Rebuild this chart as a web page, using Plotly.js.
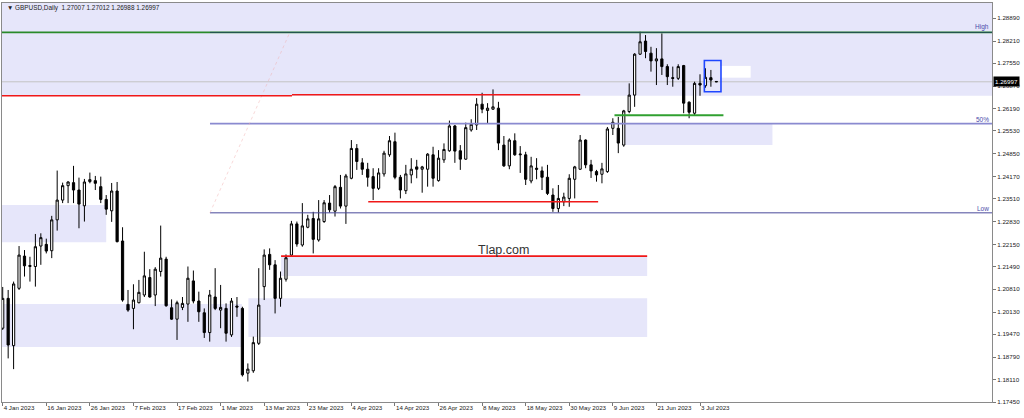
<!DOCTYPE html>
<html>
<head>
<meta charset="utf-8">
<script src="https://cdn.plot.ly/plotly-3.0.1.min.js"></script>
<style>html,body{margin:0;padding:0;background:#fff;}#chart{width:1024px;height:418px;}</style>
</head>
<body>
<div id="chart"></div>
<script>
// ---- OHLC values (GBPUSD daily, 4 Jan 2023 .. 6 Jul 2023) ----
const open = [
1.1965,1.2054,1.1913,1.2084,1.2180,1.2149,1.2149,1.2210,1.2215,1.2196,
1.2288,1.2347,1.2390,1.2399,1.2377,1.2330,1.2402,1.2405,1.2387,1.2349,
1.2315,1.2374,1.2225,1.2036,1.2024,1.2041,1.2064,1.2116,1.2064,1.2134,
1.2171,1.2026,1.1992,1.2027,1.2037,1.2106,1.2046,1.2011,1.1952,1.2058,
1.2019,1.2024,1.1945,1.2031,1.2024,1.1831,1.1838,1.1920,1.2089,1.2185,
1.2154,1.2054,1.2111,1.2183,1.2276,1.2213,1.2266,1.2292,1.2228,1.2283,
1.2338,1.2314,1.2385,1.2329,1.2412,1.2501,1.2458,1.2439,1.2417,1.2382,
1.2425,1.2482,1.2521,1.2415,1.2375,1.2422,1.2446,1.2439,1.2439,1.2482,
1.2405,1.2467,1.2494,1.2568,1.2494,1.2469,1.2556,1.2571,1.2633,1.2614,
1.2618,1.2621,1.2511,1.2449,1.2524,1.2482,1.2482,1.2404,1.2442,1.2434,
1.2415,1.2362,1.2322,1.2342,1.2352,1.2409,1.2439,1.2526,1.2452,1.2432,
1.2424,1.2432,1.2561,1.2561,1.2511,1.2611,1.2660,1.2782,1.2821,1.2785,
1.2762,1.2768,1.2745,1.2712,1.2710,1.2748,1.2639,1.2606,1.2695,1.2688,
1.2712,1.27007];
const high = [
1.2088,1.2079,1.2104,1.2210,1.2198,1.2178,1.2246,1.2248,1.2232,1.2300,
1.2435,1.2399,1.2403,1.2449,1.2414,1.2410,1.2429,1.2419,1.2417,1.2362,
1.2398,1.2401,1.2266,1.2079,1.2096,1.2109,1.2193,1.2141,1.2147,1.2271,
1.2178,1.2051,1.2047,1.2058,1.2149,1.2137,1.2074,1.2024,1.2079,1.2144,
1.2094,1.2039,1.2055,1.2058,1.2029,1.1860,1.1940,1.2144,1.2200,1.2203,
1.2168,1.2134,1.2185,1.2285,1.2283,1.2338,1.2303,1.2312,1.2347,1.2347,
1.2362,1.2392,1.2422,1.2425,1.2526,1.2514,1.2472,1.2458,1.2442,1.2442,
1.2494,1.2538,1.2548,1.2422,1.2452,1.2472,1.2467,1.2449,1.2487,1.2506,
1.2496,1.2516,1.2584,1.2571,1.2511,1.2578,1.2588,1.2651,1.2667,1.2636,
1.2677,1.2640,1.2538,1.2531,1.2546,1.2508,1.2491,1.2476,1.2472,1.2447,
1.2452,1.2382,1.2392,1.2369,1.2424,1.2449,1.2541,1.2528,1.2467,1.2437,
1.2458,1.2565,1.2591,1.2595,1.2616,1.2695,1.2785,1.2849,1.2839,1.2804,
1.2800,1.2844,1.2752,1.2745,1.2752,1.2750,1.2641,1.2700,1.2722,1.2740,
1.2735,1.27012];
const low = [
1.1960,1.1875,1.1843,1.2079,1.2119,1.2104,1.2089,1.2154,1.2188,1.2174,
1.2256,1.2338,1.2338,1.2338,1.2263,1.2283,1.2397,1.2377,1.2338,1.2303,
1.2282,1.2221,1.2044,1.2014,1.1962,1.2039,1.2058,1.2056,1.2031,1.2119,
1.2029,1.1990,1.1930,1.2019,1.1984,1.2039,1.1984,1.1936,1.1925,1.2019,
1.1965,1.1925,1.1939,1.1999,1.1821,1.1806,1.1832,1.1915,1.2049,1.2139,
1.2009,1.2029,1.2104,1.2178,1.2208,1.2208,1.2263,1.2188,1.2223,1.2279,
1.2310,1.2298,1.2322,1.2276,1.2409,1.2437,1.2422,1.2387,1.2347,1.2377,
1.2417,1.2476,1.2409,1.2352,1.2365,1.2397,1.2412,1.2369,1.2387,1.2387,
1.2402,1.2458,1.2491,1.2458,1.2437,1.2467,1.2551,1.2556,1.2606,1.2576,
1.2616,1.2496,1.2446,1.2439,1.2479,1.2428,1.2392,1.2397,1.2409,1.2377,
1.2362,1.2312,1.2310,1.2329,1.2327,1.2352,1.2437,1.2442,1.2413,1.2402,
1.2397,1.2428,1.2541,1.2487,1.2506,1.2606,1.2625,1.2780,1.2770,1.2730,
1.2690,1.2720,1.2690,1.2685,1.2705,1.2606,1.2591,1.2599,1.2658,1.2682,
1.2685,1.26988];
const close = [
1.2054,1.1915,1.2097,1.2183,1.2151,1.2152,1.2208,1.2235,1.2195,1.2288,
1.2347,1.2390,1.2401,1.2377,1.2335,1.2401,1.2408,1.2397,1.2349,1.2320,
1.2374,1.2223,1.2049,1.2019,1.2049,1.2072,1.2121,1.2058,1.2141,1.2174,
1.2032,1.1992,1.2041,1.2039,1.2114,1.2046,1.2014,1.1952,1.2064,1.2024,
1.2027,1.1950,1.2046,1.2028,1.1826,1.1843,1.1922,1.2034,1.2183,1.2154,
1.2054,1.2114,1.2175,1.2276,1.2216,1.2270,1.2291,1.2230,1.2291,1.2339,
1.2318,1.2387,1.2329,1.2419,1.2501,1.2462,1.2439,1.2415,1.2382,1.2428,
1.2487,1.2524,1.2415,1.2377,1.2425,1.2439,1.2439,1.2446,1.2484,1.2412,
1.2472,1.2498,1.2568,1.2493,1.2469,1.2563,1.2573,1.2633,1.2618,1.2621,
1.2625,1.2517,1.2449,1.2526,1.2482,1.2484,1.2409,1.2449,1.2439,1.2415,
1.2367,1.2322,1.2352,1.2356,1.2412,1.2446,1.2526,1.2452,1.2434,1.2422,
1.2440,1.2559,1.2579,1.2517,1.2613,1.2660,1.2782,1.2819,1.2790,1.2762,
1.2768,1.2745,1.2715,1.2710,1.2745,1.2636,1.2609,1.2695,1.2690,1.2713,
1.2705,1.26997];

// ---- axis tick labels ----
const xTickDates = ["2023-01-04","2023-01-16","2023-01-26","2023-02-07","2023-02-17","2023-03-01",
  "2023-03-13","2023-03-23","2023-04-04","2023-04-14","2023-04-26","2023-05-08","2023-05-18",
  "2023-05-30","2023-06-09","2023-06-21","2023-07-03"];
const xTickText = ["4 Jan 2023","16 Jan 2023","26 Jan 2023","7 Feb 2023","17 Feb 2023","1 Mar 2023",
  "13 Mar 2023","23 Mar 2023","4 Apr 2023","14 Apr 2023","26 Apr 2023","8 May 2023","18 May 2023",
  "30 May 2023","9 Jun 2023","21 Jun 2023","3 Jul 2023"];
const yTickVals = [1.28890,1.28210,1.27550,1.26870,1.26190,1.25530,1.24850,1.24170,1.23510,
  1.22830,1.22150,1.21490,1.20810,1.20130,1.19470,1.18790,1.18110,1.17450];

// ---- drawn objects (price levels) ----
const bidPrice = 1.26997;
const fibHigh = 1.2847, fibMid = 1.2575, fibLow = 1.2309;
const titleText = "\u25BC GBPUSD,Daily\u00a0 1.27007 1.27012 1.26988 1.26997";

// trading-day categories (weekdays from 4 Jan 2023)
function tradingDays(n){
  const out=[]; const d=new Date(Date.UTC(2023,0,4));
  while(out.length<n){const w=d.getUTCDay(); if(w!==0&&w!==6) out.push(d.toISOString().slice(0,10)); d.setUTCDate(d.getUTCDate()+1);}
  return out;
}
const dates = tradingDays(open.length);

const X0 = -0.13, X1 = 181.6, Y0 = 1.17450, Y1 = 1.29346;
const LAV = "rgb(230,230,250)";
const FONT = "Liberation Sans, Arial, sans-serif";

function rect(x0,x1,y0,y1,fill){return {type:"rect",xref:"x",yref:"y",x0,x1,y0,y1,fillcolor:fill,line:{width:0},layer:"below"};}
function hline(x0,x1,y,color,w,extra){return Object.assign({type:"line",xref:"x",yref:"y",x0,x1,y0:y,y1:y,line:{color,width:w},layer:"above"},extra||{});}

const shapes = [
  rect(X0,X1,1.2658,Y1,LAV),
  rect(X0,19.0,1.2221,1.2332,LAV),
  rect(X0,43.9,1.1909,1.2037,LAV),
  rect(45.1,118.3,1.1939,1.2054,LAV),
  rect(51.1,118.3,1.2121,1.2180,LAV),
  rect(114.2,141.3,1.2511,1.2575,LAV),
  rect(131.7,137.3,1.2712,1.2747,"#ffffff"),
  Object.assign(hline(X0,X1,bidPrice,"#c4c4c4",1),{layer:"below"}),
  hline(X0,X1,fibHigh,"#2a8a2a",1.6),
  hline(38.05,X1,fibHigh,"rgba(30,30,120,0.55)",1),
  hline(38.05,X1,fibMid,"#8a8ad0",1.6),
  hline(38.05,X1,fibLow,"#4a4a9a",1),
  {type:"line",xref:"x",yref:"y",x0:38.05,y0:fibLow,x1:52.7,y1:fibHigh,line:{color:"rgba(240,170,170,0.45)",width:1,dash:"dot"},layer:"above"},
  hline(X0,53.1,1.2658,"#f01818",1.6),
  hline(53.1,106.0,1.2661,"#f01818",1.6),
  hline(67.1,109.3,1.2342,"#f01818",1.6),
  hline(51.1,118.3,1.2180,"#f01818",1.6),
  hline(112.3,132.3,1.2600,"#30a030",1.8),
  {type:"rect",xref:"x",yref:"y",x0:128.8,x1:131.85,y0:1.2670,y1:1.2763,line:{color:"#1e46ff",width:1.6},fillcolor:"rgba(0,0,0,0)",layer:"above"}
];

const fibLabel = (t,y)=>({xref:"paper",yref:"y",x:1,y,text:t,showarrow:false,xanchor:"right",yanchor:"bottom",xshift:-1,yshift:-1,font:{family:FONT,size:6.5,color:"#4a4aaa"}});

const annotations = [
  {xref:"paper",yref:"paper",x:0.003,y:0.9875,text:titleText,showarrow:false,xanchor:"left",yanchor:"middle",font:{family:FONT,size:6.4,color:"#222"}},
  fibLabel("High",fibHigh), fibLabel("50%",fibMid), fibLabel("Low",fibLow),
  {xref:"x",yref:"y",x:92.0,y:1.2198,text:"Tlap.com",showarrow:false,xanchor:"center",yanchor:"middle",font:{family:FONT,size:12.5,color:"#333"}},
  {xref:"paper",yref:"y",x:1,y:bidPrice,text:bidPrice.toFixed(5),showarrow:false,xanchor:"left",yanchor:"middle",xshift:1,bgcolor:"#000",borderpad:1,font:{family:FONT,size:6.2,color:"#fff"}}
];

const trace = {
  type:"candlestick", x:dates, open, high, low, close,
  increasing:{line:{color:"#000",width:1},fillcolor:"#ffffff"},
  decreasing:{line:{color:"#000",width:1},fillcolor:"#000000"},
  whiskerwidth:0, hoverinfo:"skip"
};

const layout = {
  width:1024, height:418,
  margin:{l:2,r:32,t:3,b:16,pad:0},
  paper_bgcolor:"#fff", plot_bgcolor:"#fff",
  showlegend:false, hovermode:false, dragmode:false, boxgap:0.42,
  xaxis:{type:"category", range:[X0,X1], rangeslider:{visible:false}, showgrid:false, zeroline:false,
    showline:true, mirror:true, linecolor:"#8a8a8a", linewidth:1,
    tickmode:"array", tickvals:xTickDates, ticktext:xTickText, ticks:"outside", ticklen:3, tickcolor:"#777",
    tickangle:0, ticklabelposition:"outside right", ticklabelstandoff:0,
    tickfont:{family:FONT,size:6.2,color:"#222"}, automargin:false, fixedrange:true},
  yaxis:{range:[Y0,Y1], side:"right", showgrid:false, zeroline:false,
    showline:true, mirror:true, linecolor:"#8a8a8a", linewidth:1,
    tickmode:"array", tickvals:yTickVals, ticktext:yTickVals.map(v=>v.toFixed(5)),
    ticks:"outside", ticklen:3, tickcolor:"#777", tickfont:{family:FONT,size:6.2,color:"#222"}, automargin:false, fixedrange:true},
  shapes, annotations
};

Plotly.newPlot("chart",[trace],layout,{staticPlot:true,displayModeBar:false});
</script>
</body>
</html>
